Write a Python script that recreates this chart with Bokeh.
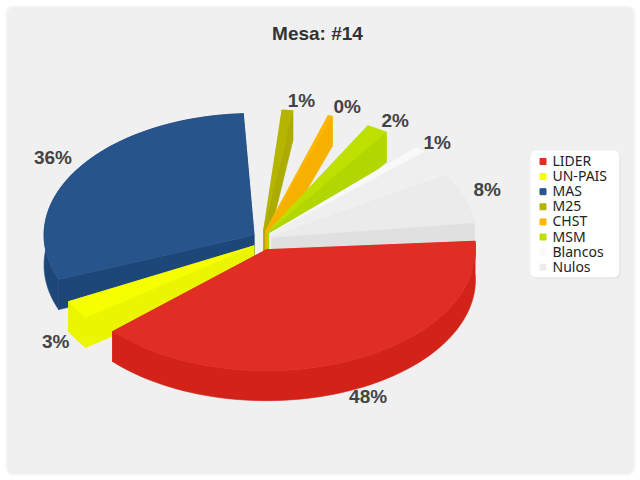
import math
from bokeh.plotting import figure
from bokeh.models import Range1d, ColumnDataSource
from bokeh.core.properties import value
from bokeh.embed import file_html
from bokeh.resources import INLINE

TITLE = "Mesa: #14"
CATEGORIES = ["LIDER", "UN-PAIS", "MAS", "M25", "CHST", "MSM", "Blancos", "Nulos"]
VALUES = [48, 3, 36, 1, 0.4, 2, 1, 8]
TOP_COLORS = ["#E02E24", "#F5FF00", "#27548B", "#B5B500", "#FDB700", "#BEE000", "#F9F9F9", "#EBEBEB"]
SIDE_COLORS = ["#D32217", "#ECF500", "#1D4679", "#ABAB00", "#F5B000", "#B2D600", "#EFEFEF", "#E0E0E0"]
LEGEND_COLORS = ["#E02E24", "#F5FF00", "#27548B", "#B5B500", "#FDB700", "#BEE000", "#F9F9F9", "#EBEBEB"]

# pie layout
CX, CY, RX, RY, DEPTH, OFFSET = 262, 240, 209, 121, 30, 10
START = -4
DEG_PER_PCT = 2.97
STRETCH = [0.992, 1, 1.015, 1, 1, 1, 1, 1.027]
RADIUS = [1, 1, 1.005, 1, 1, 1, 1, 0.975]
GAPS = [6.2, 6.0, 8.0, 9.4, 10, 10, 11, 0]
NUDGE_X = [19, -21, -25.5, 14, 17, 18, 17, 18]
NUDGE_Y = [36, 32, -12, -10, -9, -8, -7, -8]

BG = "#F0F0F0"
RIM = "#F9F9F9"


def round_rect(x0, y0, x1, y1, r):
    xs, ys = [], []
    for cx, cy, a0 in [(x1 - r, y0 + r, -90), (x1 - r, y1 - r, 0), (x0 + r, y1 - r, 90), (x0 + r, y0 + r, 180)]:
        for i in range(13):
            a = math.radians(a0 + i * 7.5)
            xs.append(cx + r * math.cos(a))
            ys.append(cy + r * math.sin(a))
    return xs, ys


p = figure(width=640, height=480, output_backend="svg", toolbar_location=None,
           x_range=Range1d(0, 640), y_range=Range1d(480, 0),
           x_axis_location=None, y_axis_location=None, min_border=0)
p.grid.visible = False
p.outline_line_color = None
p.background_fill_color = "#FFFFFF"
p.border_fill_color = "#FFFFFF"

# chart frame
fx, fy = round_rect(5.5, 5.5, 634.5, 474.5, 8)
p.patch(fx, fy, fill_color=BG, line_color=RIM, line_width=2)

# slices
slices = []
angle = START
for i, v in enumerate(VALUES):
    a0 = angle
    a1 = a0 + v * DEG_PER_PCT * STRETCH[i]
    angle = a1 + GAPS[i]
    mid = math.radians((a0 + a1) / 2)
    ax = CX + OFFSET * math.cos(mid)
    ay = CY + OFFSET * math.sin(mid)
    slices.append(dict(i=i, a0=a0, a1=a1, mid=mid, ax=ax, ay=ay))

face_xs, face_ys, face_colors = [], [], []


def rim(s, deg):
    t = math.radians(deg)
    k = RADIUS[s["i"]]
    return s["ax"] + k * RX * math.cos(t), s["ay"] + k * RY * math.sin(t)


def add(xs, ys, c):
    face_xs.append(xs)
    face_ys.append(ys)
    face_colors.append(c)


for s in sorted(slices, key=lambda q: q["ay"] + 100 * math.sin(q["mid"])):
    side = SIDE_COLORS[s["i"]]
    n = max(2, int((s["a1"] - s["a0"]) / 2))
    degs = [s["a0"] + (s["a1"] - s["a0"]) * j / n for j in range(n + 1)]
    pts = [rim(s, d) for d in degs]

    def radial(pt):
        return ([s["ax"], pt[0], pt[0], s["ax"]],
                [s["ay"], pt[1], pt[1] + DEPTH, s["ay"] + DEPTH])

    start_visible = math.cos(math.radians(s["a0"])) < 0
    end_visible = math.cos(math.radians(s["a1"])) > 0
    if not start_visible:
        add(*radial(pts[0]), side)
    if not end_visible:
        add(*radial(pts[-1]), side)
    add([q[0] for q in pts] + [q[0] for q in reversed(pts)],
        [q[1] for q in pts] + [q[1] + DEPTH for q in reversed(pts)], side)
    if start_visible:
        add(*radial(pts[0]), side)
    if end_visible:
        add(*radial(pts[-1]), side)
    add([s["ax"]] + [q[0] for q in pts], [s["ay"]] + [q[1] for q in pts], TOP_COLORS[s["i"]])

p.patches("xs", "ys", source=ColumnDataSource(dict(xs=face_xs, ys=face_ys, c=face_colors)),
          fill_color="c", line_color="c", line_width=0.6)

# data labels
lx, ly, lt = [], [], []
for s in slices:
    rx_, ry_ = CX + (RX + OFFSET) * math.cos(s["mid"]), CY + (RY + OFFSET) * math.sin(s["mid"])
    lx.append(rx_ + NUDGE_X[s["i"]])
    ly.append(ry_ + NUDGE_Y[s["i"]])
    lt.append(f"{round(VALUES[s['i']])}%")
p.text(lx, ly, text=lt, text_font=value("Liberation Sans"), text_font_style="bold",
       text_font_size="19px", text_color="#444444", text_align="center", text_baseline="middle")

# title
p.text([317], [33], text=[TITLE], text_font=value("Liberation Sans"), text_font_style="bold",
       text_font_size="19px", text_color="#333333", text_align="center", text_baseline="middle")

# legend
bx, by = round_rect(530, 150, 619, 277, 6)
sx, sy = round_rect(531, 151, 620, 278, 6)
p.patch(sx, sy, fill_color="#DDDDDD", line_color=None)
p.patch(bx, by, fill_color="#FFFFFF", line_color=None)
leg_y = [161 + 15.1 * i for i in range(len(CATEGORIES))]
p.scatter([542.5] * len(CATEGORIES), leg_y, marker="square", size=6, color=LEGEND_COLORS)
p.text([552] * len(CATEGORIES), [y - 1 for y in leg_y], text=CATEGORIES, text_font=value("Noto Sans"),
       text_font_size="14px", text_color="#222222", text_align="left", text_baseline="middle")

open("out.html", "w").write(file_html(p, INLINE))
